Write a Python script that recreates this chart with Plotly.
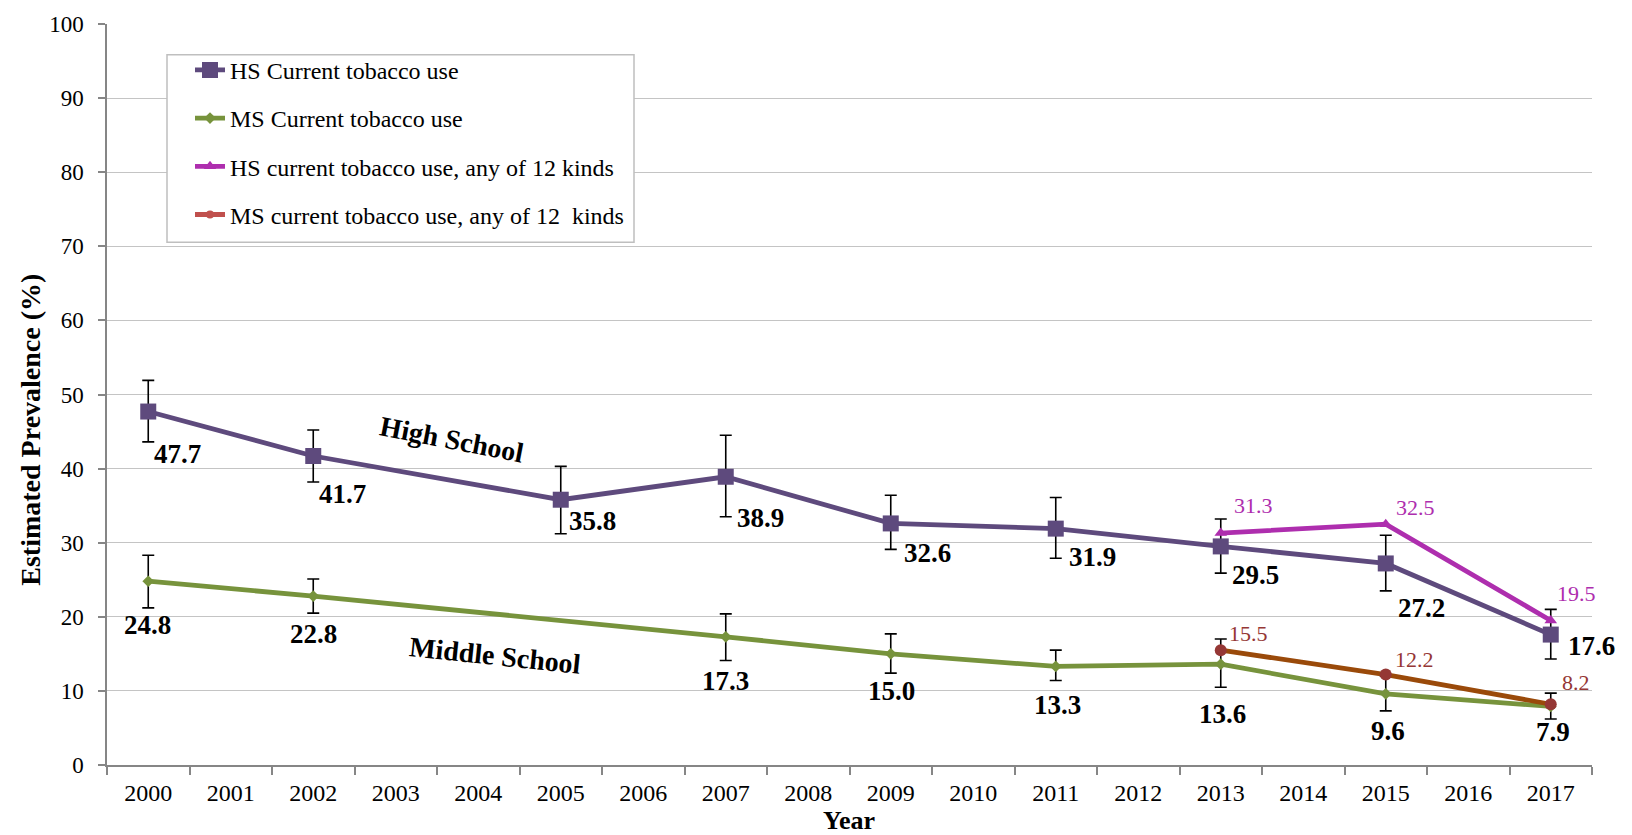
import plotly.graph_objects as go

# Category axis: every survey-period year shown on the x axis
YEARS = ["2000", "2001", "2002", "2003", "2004", "2005", "2006", "2007", "2008",
         "2009", "2010", "2011", "2012", "2013", "2014", "2015", "2016", "2017"]

# High school current tobacco use (%), with 95% confidence limits
HS_YEARS = ["2000", "2002", "2005", "2007", "2009", "2011", "2013", "2015", "2017"]
HS_VALUES = [47.7, 41.7, 35.8, 38.9, 32.6, 31.9, 29.5, 27.2, 17.6]
HS_LOWER = [43.6, 38.2, 31.2, 33.5, 29.1, 27.9, 25.9, 23.5, 14.3]
HS_UPPER = [51.9, 45.2, 40.3, 44.5, 36.4, 36.1, 33.2, 31.0, 21.0]

# Middle school current tobacco use (%), with 95% confidence limits
MS_YEARS = ["2000", "2002", "2007", "2009", "2011", "2013", "2015", "2017"]
MS_VALUES = [24.8, 22.8, 17.3, 15.0, 13.3, 13.6, 9.6, 7.9]
MS_LOWER = [21.2, 20.5, 14.1, 12.4, 11.4, 10.5, 7.3, 6.2]
MS_UPPER = [28.3, 25.1, 20.4, 17.7, 15.5, 17.0, 12.0, 9.7]

# Current use of any of 12 tobacco products (%)
HS12_YEARS = ["2013", "2015", "2017"]
HS12_VALUES = [31.3, 32.5, 19.5]
MS12_YEARS = ["2013", "2015", "2017"]
MS12_VALUES = [15.5, 12.2, 8.2]

# Pixel offsets (dx, dy; dy positive = down) of each value label from its point
HS_LABEL_OFFSETS = [(29, 42), (29, 38), (32, 21), (35, 41), (37, 30),
                    (37, 28), (35, 29), (36, 45), (41, 11)]
MS_LABEL_OFFSETS = [(-1, 44), (0, 38), (0, 44), (1, 37), (2, 39),
                    (2, 50), (2, 37), (2, 26)]
HS12_LABEL_OFFSETS = [(33, -28), (30, -17), (26, -27)]
MS12_LABEL_OFFSETS = [(28, -17), (29, -15), (25, -22)]

FONT = "Liberation Serif"
PURPLE = "#5E4A7D"
GREEN = "#77933C"
MAGENTA = "#AE2EAE"
ORANGE = "#9A4A0A"
DARKRED = "#953735"
LEGEND_RED = "#C0504D"

# Plot-area geometry in pixels
W, H = 1632, 835
L, R, T, B = 107, 40, 18, 70
PW = W - L - R
PH = H - T - B


def px_to_paper(px, py):
    return (px - L) / PW, (H - B - py) / PH


def err_arrays(values, lower, upper):
    plus = [round(u - v, 2) for v, u in zip(values, upper)]
    minus = [round(v - lo, 2) for v, lo in zip(values, lower)]
    return plus, minus


fig = go.Figure()

hs_plus, hs_minus = err_arrays(HS_VALUES, HS_LOWER, HS_UPPER)
ms_plus, ms_minus = err_arrays(MS_VALUES, MS_LOWER, MS_UPPER)

fig.add_trace(go.Scatter(
    x=HS_YEARS, y=HS_VALUES, name="HS Current tobacco use",
    mode="lines+markers", legendgroup="a",
    line=dict(color=PURPLE, width=4.8),
    marker=dict(symbol="square", size=16, color=PURPLE),
    error_y=dict(type="data", symmetric=False, array=hs_plus, arrayminus=hs_minus,
                 color="black", thickness=1.6, width=6),
))
fig.add_trace(go.Scatter(
    x=MS_YEARS, y=MS_VALUES, name="MS Current tobacco use",
    mode="lines+markers", legendgroup="b",
    line=dict(color=GREEN, width=4.8),
    marker=dict(symbol="diamond", size=9, color=GREEN),
    error_y=dict(type="data", symmetric=False, array=ms_plus, arrayminus=ms_minus,
                 color="black", thickness=1.6, width=6),
))
fig.add_trace(go.Scatter(
    x=HS12_YEARS, y=HS12_VALUES, name="HS current tobacco use, any of 12 kinds",
    mode="lines+markers", legendgroup="c",
    line=dict(color=MAGENTA, width=4.8),
    marker=dict(symbol="triangle-up", size=11, color=MAGENTA),
))
fig.add_trace(go.Scatter(
    x=MS12_YEARS, y=MS12_VALUES, name="MS current tobacco use, any of 12  kinds",
    mode="lines+markers", legendgroup="d", showlegend=False,
    line=dict(color=ORANGE, width=4.8),
    marker=dict(symbol="circle", size=12, color=DARKRED),
))
# legend key for the 12-kinds middle school series
fig.add_trace(go.Scatter(
    x=[None], y=[None], name="MS current tobacco use, any of 12  kinds",
    mode="lines+markers", legendgroup="d",
    line=dict(color=LEGEND_RED, width=4.8),
    marker=dict(symbol="circle", size=8, color=LEGEND_RED),
))

annotations = []


def add_value_labels(years, values, offsets, color, size, bold):
    for yr, v, (dx, dy) in zip(years, values, offsets):
        txt = f"{v:.1f}"
        if bold:
            txt = f"<b>{txt}</b>"
        annotations.append(dict(
            x=YEARS.index(yr), y=v, xref="x", yref="y", text=txt, showarrow=False,
            xanchor="center", yanchor="middle", xshift=dx, yshift=-dy,
            font=dict(family=FONT, size=size, color=color),
        ))


add_value_labels(HS_YEARS, HS_VALUES, HS_LABEL_OFFSETS, "black", 27, True)
add_value_labels(MS_YEARS, MS_VALUES, MS_LABEL_OFFSETS, "black", 27, True)
add_value_labels(HS12_YEARS, HS12_VALUES, HS12_LABEL_OFFSETS, MAGENTA, 22, False)
add_value_labels(MS12_YEARS, MS12_VALUES, MS12_LABEL_OFFSETS, DARKRED, 22, False)

# Group labels drawn along the lines
for text, (px, py), angle in [("High School", (452, 437), 11),
                              ("Middle School", (495, 655), 6)]:
    x, y = px_to_paper(px, py)
    annotations.append(dict(
        x=x, y=y, xref="paper", yref="paper", text=f"<b>{text}</b>",
        showarrow=False, textangle=angle, xanchor="center", yanchor="middle",
        font=dict(family=FONT, size=28, color="black"),
    ))

# Axis titles
x, y = px_to_paper(31, 427)
annotations.append(dict(
    x=x, y=y, xref="paper", yref="paper", text="<b>Estimated Prevalence (%)</b>",
    showarrow=False, textangle=-90, xanchor="center", yanchor="middle",
    font=dict(family=FONT, size=28, color="black"),
))
x, y = px_to_paper(849, 821)
annotations.append(dict(
    x=x, y=y, xref="paper", yref="paper", text="<b>Year</b>",
    showarrow=False, xanchor="center", yanchor="middle",
    font=dict(family=FONT, size=26, color="black"),
))

# Legend frame (white box that hides the gridlines behind the legend)
bx0, by0 = px_to_paper(167, 238)
bx1, by1 = px_to_paper(634, 49)
shapes = [dict(type="rect", xref="paper", yref="paper",
               x0=bx0, y0=by0, x1=bx1, y1=by1, layer="above",
               fillcolor="white", line=dict(color="#BFBFBF", width=1.5))]

lx, ly = px_to_paper(190, 42)

fig.update_layout(
    width=W, height=H,
    margin=dict(l=L, r=R, t=T, b=B),
    paper_bgcolor="white", plot_bgcolor="white",
    font=dict(family=FONT, size=22, color="black"),
    annotations=annotations,
    shapes=shapes,
    showlegend=True,
    legend=dict(
        x=lx, y=ly, xanchor="left", yanchor="top",
        bgcolor="rgba(0,0,0,0)", borderwidth=0,
        font=dict(family=FONT, size=24, color="black"),
        tracegroupgap=14, traceorder="grouped",
        itemsizing="trace",
    ),
    xaxis=dict(
        type="category", categoryorder="array", categoryarray=YEARS,
        range=[-0.5, len(YEARS) - 0.5],
        showgrid=False, zeroline=False,
        showline=True, linecolor="#868686", linewidth=1.5,
        ticks="outside", tickson="boundaries", ticklen=8,
        tickcolor="#868686", tickwidth=1.5,
        tickfont=dict(family=FONT, size=24, color="black"),
        ticklabelstandoff=5,
    ),
    yaxis=dict(
        range=[0, 100], dtick=10, tick0=0,
        showgrid=True, gridcolor="#C4C4C4", gridwidth=1.4,
        zeroline=False,
        showline=True, linecolor="#868686", linewidth=1.5,
        ticks="outside", ticklen=7, tickcolor="#868686", tickwidth=1.5,
        tickfont=dict(family=FONT, size=23, color="black"),
        ticklabelstandoff=10,
    ),
)

fig.write_html("out.html")
